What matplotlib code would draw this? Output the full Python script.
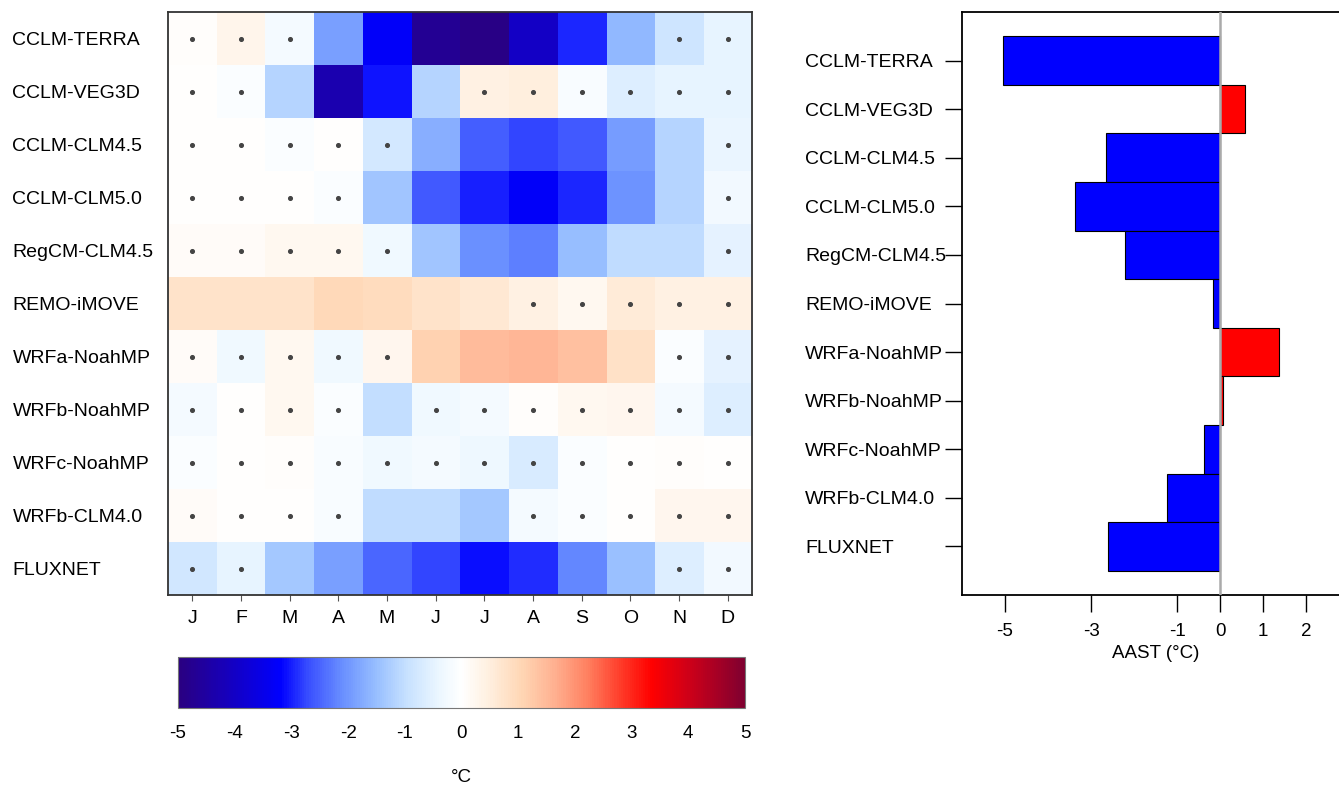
import numpy as np
import matplotlib
matplotlib.use("Agg")
import matplotlib.pyplot as plt
from matplotlib.colors import LinearSegmentedColormap

plt.rcParams["font.family"] = ["Liberation Sans", "DejaVu Sans"]
plt.rcParams["axes.unicode_minus"] = False

# ==================== 数据 ====================
models = ["CCLM-TERRA", "CCLM-VEG3D", "CCLM-CLM4.5", "CCLM-CLM5.0", "RegCM-CLM4.5",
          "REMO-iMOVE", "WRFa-NoahMP", "WRFb-NoahMP", "WRFc-NoahMP", "WRFb-CLM4.0", "FLUXNET"]
months = ["J", "F", "M", "A", "M", "J", "J", "A", "S", "O", "N", "D"]

# 月平均偏差 (°C)
cclm_terra  = [0.05, 0.3, -0.2, -1.9, -3.25, -4.7, -4.9, -4.0, -2.95, -1.6, -0.85, -0.45]
cclm_veg3d  = [0.02, -0.1, -1.15, -4.3, -3.05, -1.15, 0.4, 0.5, -0.15, -0.6, -0.45, -0.45]
cclm_clm45  = [0.02, 0.0, -0.1, 0.0, -0.75, -1.7, -2.55, -2.75, -2.6, -1.95, -1.15, -0.4]
cclm_clm50  = [0.0, 0.0, 0.0, -0.1, -1.4, -2.6, -3.0, -3.25, -2.95, -2.05, -1.15, -0.25]
regcm_clm45 = [0.1, 0.1, 0.2, 0.2, -0.3, -1.4, -2.1, -2.25, -1.5, -1.05, -1.05, -0.5]
remo_imove  = [0.75, 0.75, 0.75, 1.0, 0.9, 0.75, 0.65, 0.4, 0.2, 0.55, 0.4, 0.4]
wrfa_noah   = [0.1, -0.3, 0.2, -0.3, 0.25, 1.1, 1.45, 1.55, 1.4, 0.8, -0.1, -0.5]
wrfb_noah   = [-0.2, 0.0, 0.2, -0.1, -1.0, -0.3, -0.2, 0.05, 0.2, 0.25, -0.2, -0.6]
wrfc_noah   = [-0.1, 0.0, 0.05, -0.15, -0.3, -0.2, -0.35, -0.7, -0.1, 0.0, 0.05, 0.02]
wrfb_clm40  = [0.1, 0.02, 0.02, -0.15, -1.05, -1.05, -1.35, -0.2, -0.1, 0.0, 0.25, 0.25]
fluxnet     = [-0.8, -0.45, -1.35, -1.9, -2.5, -2.75, -3.1, -2.9, -2.15, -1.45, -0.6, -0.25]

# 点标记 (1 = 画点)
dots = [
    [1, 1, 1, 0, 0, 0, 0, 0, 0, 0, 1, 1],
    [1, 1, 0, 0, 0, 0, 1, 1, 1, 1, 1, 1],
    [1, 1, 1, 1, 1, 0, 0, 0, 0, 0, 0, 1],
    [1, 1, 1, 1, 0, 0, 0, 0, 0, 0, 0, 1],
    [1, 1, 1, 1, 1, 0, 0, 0, 0, 0, 0, 1],
    [0, 0, 0, 0, 0, 0, 0, 1, 1, 1, 1, 1],
    [1, 1, 1, 1, 1, 0, 0, 0, 0, 0, 1, 1],
    [1, 1, 1, 1, 0, 1, 1, 1, 1, 1, 1, 1],
    [1, 1, 1, 1, 1, 1, 1, 1, 1, 1, 1, 1],
    [1, 1, 1, 1, 0, 0, 0, 1, 1, 1, 1, 1],
    [1, 1, 0, 0, 0, 0, 0, 0, 0, 0, 1, 1],
]

# 年平均偏差 AAST (°C)
aast = [-5.05, 0.59, -2.65, -3.38, -2.21, -0.17, 1.37, 0.08, -0.37, -1.24, -2.61]

bias = np.array([cclm_terra, cclm_veg3d, cclm_clm45, cclm_clm50, regcm_clm45, remo_imove,
                 wrfa_noah, wrfb_noah, wrfc_noah, wrfb_clm40, fluxnet])
dots = np.array(dots)

# 色标：深紫-蓝-白-橙-红-暗红（按参考色条取色）
cmap = LinearSegmentedColormap.from_list("bwr_ncl", [
    (0.000, "#2a0080"), (0.180, "#0000ff"), (0.230, "#3a50ff"), (0.290, "#6a90ff"),
    (0.350, "#98bfff"), (0.405, "#c8e2ff"), (0.465, "#eef8ff"), (0.500, "#ffffff"),
    (0.547, "#fff0e0"), (0.607, "#ffd6b4"), (0.665, "#ffb090"), (0.723, "#ff8060"),
    (0.783, "#ff3a28"), (0.836, "#ff0000"), (0.900, "#d00018"), (1.000, "#800030"),
])

fs = 14
W, H = 1339, 787
fig = plt.figure(figsize=(W / 100, H / 100), dpi=100)

# ==================== 热力图 ====================
ax1 = fig.add_axes([168 / W, 1 - 595 / H, 584 / W, 583 / H])
nrow, ncol = bias.shape
im = ax1.imshow(bias, cmap=cmap, vmin=-5, vmax=5, aspect="auto",
                extent=[-0.5, ncol - 0.5, nrow - 0.5, -0.5], interpolation="nearest")
yy, xx = np.nonzero(dots)
ax1.scatter(xx, yy, s=7, c="#444444", zorder=3)
ax1.set_xticks(range(ncol))
ax1.set_xticklabels(months, fontsize=fs)
ax1.set_yticks(range(nrow))
ax1.set_yticklabels(models, fontsize=fs, ha="left")
ax1.tick_params(axis="y", length=0, pad=112)
ax1.tick_params(axis="x", length=4, color="#555555", pad=7)
for s in ax1.spines.values():
    s.set_color("#333333")
    s.set_linewidth(1.3)

# 色标
cax = fig.add_axes([178 / W, 1 - 708 / H, 567 / W, 51 / H])
cb = fig.colorbar(im, cax=cax, orientation="horizontal", ticks=range(-5, 6))
cb.ax.tick_params(length=0, labelsize=fs - 0.5, pad=12)
cb.outline.set_edgecolor("#777777")
cb.set_label("°C", fontsize=fs - 0.5, labelpad=20)

# ==================== 条形图 ====================
ax2 = fig.add_axes([962 / W, 1 - 595 / H, 387 / W, 583 / H])
ypos = np.arange(len(models))
colors = ["r" if v > 0 else "b" for v in aast]
ax2.barh(ypos, aast, height=1.0, color=colors, edgecolor="k", linewidth=0.8, zorder=2)
ax2.axvline(0, color="#aaaaaa", lw=1.8, zorder=3)
ax2.set_xlim(-6, 3)
ax2.set_ylim(len(models), -1)
ax2.set_yticks(ypos)
ax2.set_yticklabels(models, fontsize=fs, ha="left")
ax2.tick_params(axis="y", length=12, width=1, pad=101)
ax2.set_xticks([-5, -3, -1, 0, 1, 2])
ax2.set_xticklabels(["-5", "-3", "-1", "0", "1", "2"], fontsize=fs - 0.5)
ax2.tick_params(axis="x", length=12, width=1, pad=8)
ax2.xaxis.get_major_ticks()[3].tick1line.set_color("#aaaaaa")
ax2.set_xlabel("AAST (°C)", fontsize=fs - 0.5, labelpad=4)
for s in ax2.spines.values():
    s.set_linewidth(1.3)

plt.savefig("out.png", dpi=100)
